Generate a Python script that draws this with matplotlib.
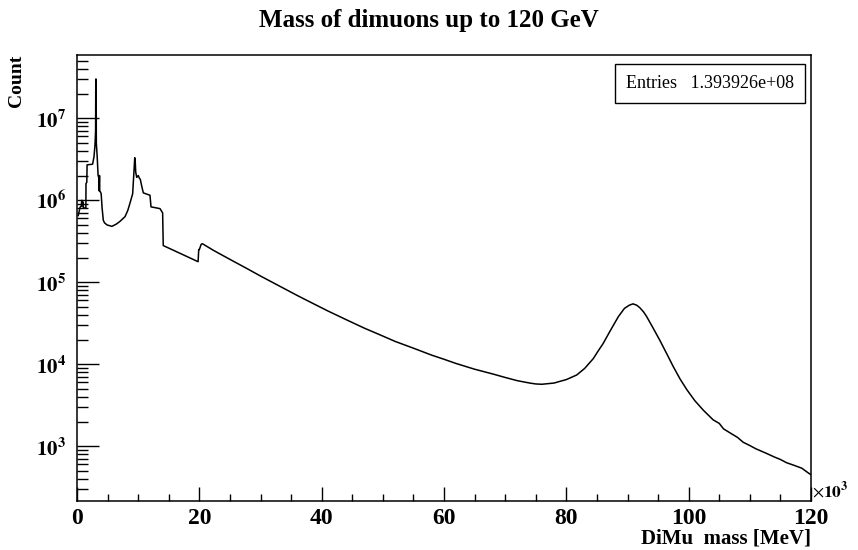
import numpy as np
import matplotlib
matplotlib.use("Agg")
import matplotlib.pyplot as plt
from matplotlib.ticker import FixedLocator, NullFormatter, FuncFormatter

# dimuon invariant mass spectrum (mass in GeV, counts per bin)
mass_gev = [
    0.2, 0.5, 0.7, 0.78, 0.82, 1.0, 1.05, 1.45, 1.47, 1.6, 1.65, 2.55,
    2.78, 2.94, 3.04, 3.07, 3.13, 3.16, 3.3, 3.45, 3.55, 3.62, 3.68, 3.72,
    3.85, 3.95, 4.1, 4.3, 4.5, 4.9, 5.7, 6.4, 7.0, 7.85, 8.3, 8.66, 9.1,
    9.32, 9.44, 9.5, 9.6, 9.76, 10.02, 10.2, 10.35, 10.57, 10.84, 11.5,
    11.93, 12.1, 13.57, 13.9, 14.0, 14.1, 19.8, 19.9, 20.0, 20.3, 20.5,
    22.3, 25.0, 27.7, 30.0, 33.2, 36.0, 38.6, 41.0, 44.1, 47.0, 49.5,
    52.0, 55.0, 58.0, 60.0, 62.0, 65.0, 68.0, 70.0, 72.0, 74.0, 75.0,
    76.0, 78.0, 79.0, 80.0, 81.7, 83.0, 84.4, 85.2, 86.0, 87.1, 88.5,
    89.5, 90.3, 90.9, 91.5, 92.0, 92.6, 93.1, 94.2, 95.3, 96.4, 97.5,
    98.6, 99.7, 101.0, 102.4, 104.0, 105.0, 105.7, 107.0, 108.0, 108.9,
    110.0, 111.0, 112.7, 114.0, 115.0, 116.0, 117.1, 118.5, 119.6, 120.0,
]
counts = [
    6.5e5, 8.2e5, 8.5e5, 1.0e6, 8.5e5, 9.5e5, 8.0e5, 8.1e5, 1.6e6, 1.65e6,
    2.7e6, 2.75e6, 3.4e6, 4.7e6, 7.0e6, 3.0e7, 3.0e7, 5.0e6, 3.4e6, 2.0e6,
    1.9e6, 1.3e6, 2.0e6, 1.3e6, 1.25e6, 1.2e6, 8.1e5, 5.7e5, 5.3e5, 5.0e5,
    4.8e5, 5.1e5, 5.5e5, 6.3e5, 7.5e5, 9.2e5, 1.2e6, 2.3e6, 3.3e6, 3.2e6,
    2.2e6, 1.9e6, 2.0e6, 1.85e6, 1.8e6, 1.5e6, 1.23e6, 1.18e6, 1.15e6,
    8.3e5, 7.9e5, 7.2e5, 7.0e5, 2.8e5, 1.78e5, 2.5e5, 2.5e5, 2.9e5, 2.95e5,
    2.45e5, 1.9e5, 1.48e5, 1.19e5, 8.9e4, 6.9e4, 5.5e4, 4.47e4, 3.47e4,
    2.75e4, 2.29e4, 1.9e4, 1.57e4, 1.29e4, 1.15e4, 1.02e4, 8.7e3, 7.6e3,
    6.9e3, 6.3e3, 5.9e3, 5.75e3, 5.7e3, 5.9e3, 6.2e3, 6.5e3, 7.4e3, 8.9e3,
    1.17e4, 1.45e4, 1.78e4, 2.5e4, 3.8e4, 4.8e4, 5.25e4, 5.45e4, 5.25e4,
    4.9e4, 4.37e4, 3.85e4, 2.75e4, 1.95e4, 1.35e4, 9.3e3, 6.6e3, 4.9e3,
    3.6e3, 2.75e3, 2.1e3, 1.9e3, 1.63e3, 1.42e3, 1.28e3, 1.12e3, 1.02e3,
    9.3e2, 8.2e2, 7.4e2, 6.9e2, 6.3e2, 5.9e2, 5.4e2, 4.7e2, 4.5e2,
]
n_entries = 1.393926e+08

mass_mev = np.array(mass_gev) * 1000.0

serif = "Liberation Serif"
plt.rcParams["mathtext.fontset"] = "stix"

fig = plt.figure(figsize=(8.58, 5.5), dpi=100)
ax = fig.add_axes([77 / 858, 49 / 550, 734 / 858, 446 / 550])

ax.plot(mass_mev, counts, color="black", lw=1.1)

ax.set_yscale("log")
ax.set_xlim(0, 120000)
ax.set_ylim(215, 5.9e7)

for s in ax.spines.values():
    s.set_linewidth(1.1)

# x axis: labels every 20 GeV shown in units of 10^3 MeV
ax.xaxis.set_major_locator(FixedLocator(np.arange(0, 120001, 20000)))
ax.xaxis.set_minor_locator(FixedLocator(np.arange(0, 120001, 5000)))
ax.xaxis.set_major_formatter(FuncFormatter(lambda v, p: f"{v / 1000:.0f}"))
ax.tick_params(axis="x", which="major", direction="in", length=10, width=1,
               pad=5, labelsize=17)
ax.tick_params(axis="x", which="minor", direction="in", length=5, width=1)

decades = [1e3, 1e4, 1e5, 1e6, 1e7]
ax.yaxis.set_major_locator(FixedLocator(decades))
minor = [m * d for d in [1e2, 1e3, 1e4, 1e5, 1e6, 1e7] for m in range(2, 10)]
ax.yaxis.set_minor_locator(FixedLocator(minor))
ax.yaxis.set_minor_formatter(NullFormatter())
ax.yaxis.set_major_formatter(
    FuncFormatter(lambda v, p: r"$\mathbf{10^{%d}}$" % round(np.log10(v))))
ax.tick_params(axis="y", which="major", direction="in", length=16, width=1,
               pad=8, labelsize=15)
ax.tick_params(axis="y", which="minor", direction="in", length=8, width=1)
ax.tick_params(top=False, right=False)

for lab in ax.get_xticklabels():
    lab.set_fontfamily(serif)
    lab.set_fontweight("bold")

ax.text(1.001, 0.022, r"$\times\mathbf{10^{3}}$", transform=ax.transAxes,
        ha="left", va="center", fontsize=12.5)

fig.text(811 / 858, 1 - 538 / 550, "DiMu  mass [MeV]", ha="right", va="center",
         fontsize=15, fontfamily=serif, fontweight="bold")
fig.text(17 / 858, 1 - 55 / 550, "Count", ha="center", va="top", rotation=90,
         fontsize=14, fontfamily=serif, fontweight="bold")
fig.text(0.5, 1 - 20 / 550, "Mass of dimuons up to 120 GeV", ha="center",
         va="center", fontsize=18, fontfamily=serif, fontweight="bold")

# statistics box
ax.text(0.9768, 0.955, f"Entries   {n_entries:.6e}", transform=ax.transAxes,
        ha="right", va="top", fontsize=13, fontfamily=serif,
        bbox=dict(boxstyle="square,pad=0.6", fc="white", ec="black", lw=1))

fig.savefig("out.png", dpi=100)
